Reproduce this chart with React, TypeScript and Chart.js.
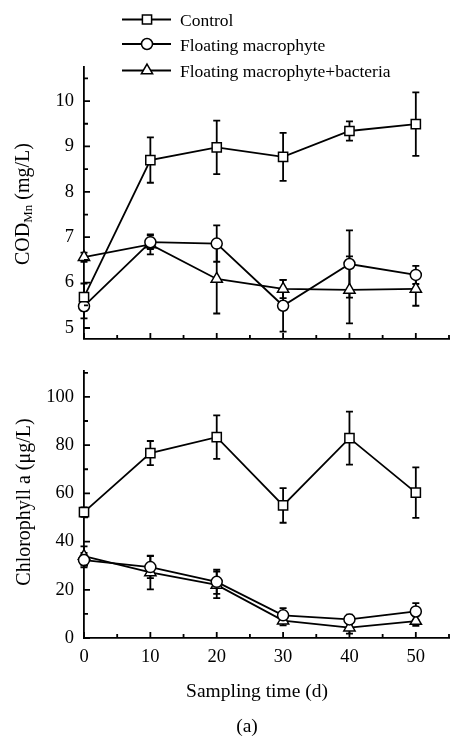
import React, { useEffect, useRef } from "react";
import { Chart, registerables } from "chart.js";
Chart.register(...registerables);

const FONT = "'Liberation Serif', 'Times New Roman', serif";

const DAYS = [0, 10, 20, 30, 40, 50];
const SERIES_NAMES = ["Control", "Floating macrophyte", "Floating macrophyte+bacteria"];
const SERIES_STYLES = ["rect", "circle", "triangle"];

const COD_CONTROL = [5.68, 8.7, 8.98, 8.77, 9.34, 9.49];
const COD_CONTROL_ERR = [0.3, 0.5, 0.59, 0.53, 0.21, 0.7];
const COD_FM = [5.48, 6.89, 6.86, 5.49, 6.41, 6.17];
const COD_FM_ERR = [0.27, 0.15, 0.4, 0.57, 0.74, 0.2];
const COD_FMB = [6.56, 6.84, 6.08, 5.86, 5.84, 5.86];
const COD_FMB_ERR = [0.1, 0.22, 0.76, 0.2, 0.74, 0.37];

const CHL_CONTROL = [52.2, 76.7, 83.3, 55.0, 82.9, 60.3];
const CHL_CONTROL_ERR = [2, 5, 9, 7.2, 11, 10.5];
const CHL_FM = [32.3, 29.4, 23.3, 9.4, 7.7, 11.0];
const CHL_FM_ERR = [3, 4.6, 5, 3, 2, 3.5];
const CHL_FMB = [34.0, 27.2, 22.0, 7.2, 4.3, 7.0];
const CHL_FMB_ERR = [4, 7, 5.5, 2, 2.5, 2];

const X_MAJOR = [0, 10, 20, 30, 40, 50];
const X_MINOR = [5, 15, 25, 35, 45, 55];
const COD_MAJOR = [5, 6, 7, 8, 9, 10];
const COD_MINOR = [5.5, 6.5, 7.5, 8.5, 9.5, 10.5];
const CHL_MAJOR = [0, 20, 40, 60, 80, 100];
const CHL_MINOR = [10, 30, 50, 70, 90, 110];

const X_TITLE = "Sampling time (d)";
const PANEL_LABEL = "(a)";
const COD_TITLE = ["COD", "Mn", " (mg/L)"];
const CHL_TITLE = "Chlorophyll a (\u03bcg/L)";

const LW = 1.8;

function drawMarker(ctx: CanvasRenderingContext2D, style: string, x: number, y: number) {
  ctx.save();
  ctx.beginPath();
  if (style === "rect") {
    const s = 4.6;
    ctx.rect(x - s, y - s, 2 * s, 2 * s);
  } else if (style === "circle") {
    ctx.arc(x, y, 5.5, 0, Math.PI * 2);
  } else {
    const r = 6.5;
    let a = 0;
    ctx.moveTo(x + Math.sin(a) * r, y - Math.cos(a) * r);
    a += (2 * Math.PI) / 3;
    ctx.lineTo(x + Math.sin(a) * r, y - Math.cos(a) * r);
    a += (2 * Math.PI) / 3;
    ctx.lineTo(x + Math.sin(a) * r, y - Math.cos(a) * r);
    ctx.closePath();
  }
  ctx.fillStyle = "#fff";
  ctx.fill();
  ctx.strokeStyle = "#000";
  ctx.lineWidth = 1.5;
  ctx.stroke();
  ctx.restore();
}

function makeDataset(i: number, values: number[], errors: number[]) {
  const style = SERIES_STYLES[i];
  return {
    label: SERIES_NAMES[i],
    data: DAYS.map((d, j) => ({ x: d, y: values[j] })),
    errors,
    borderColor: "#000",
    borderWidth: LW,
    pointStyle: style,
    pointRadius: style === "rect" ? 6.5 : style === "circle" ? 5.5 : 6.5,
    pointBorderWidth: 1.5,
    pointBackgroundColor: "#fff",
    pointBorderColor: "#000",
    fill: false,
    tension: 0,
    clip: false,
  };
}

function makeConfig(o: {
  datasets: any[];
  yMin: number;
  yMax: number;
  yMajor: number[];
  yMinor: number[];
  showXLabels: boolean;
  padTop: number;
  xHeight: number;
  drawText: (ctx: CanvasRenderingContext2D, chart: any) => void;
}) {
  const decor = {
    id: "decor",
    beforeDatasetsDraw(chart: any) {
      const ctx = chart.ctx as CanvasRenderingContext2D;
      const ys = chart.scales.y;
      ctx.save();
      ctx.strokeStyle = "#000";
      ctx.lineWidth = LW;
      chart.data.datasets.forEach((ds: any, i: number) => {
        const meta = chart.getDatasetMeta(i);
        meta.data.forEach((pt: any, j: number) => {
          const v = ds.data[j].y;
          const e = ds.errors[j];
          const yt = ys.getPixelForValue(v + e);
          const yb = ys.getPixelForValue(v - e);
          const x = pt.x;
          ctx.beginPath();
          ctx.moveTo(x, yt);
          ctx.lineTo(x, yb);
          ctx.moveTo(x - 3.5, yt);
          ctx.lineTo(x + 3.5, yt);
          ctx.moveTo(x - 3.5, yb);
          ctx.lineTo(x + 3.5, yb);
          ctx.stroke();
        });
      });
      ctx.restore();
    },
    afterDraw(chart: any) {
      const ctx = chart.ctx as CanvasRenderingContext2D;
      const xs = chart.scales.x;
      const ys = chart.scales.y;
      const area = chart.chartArea;
      ctx.save();
      ctx.strokeStyle = "#000";
      ctx.lineWidth = LW;
      ctx.beginPath();
      o.yMajor.forEach((v) => {
        const p = ys.getPixelForValue(v);
        ctx.moveTo(area.left, p);
        ctx.lineTo(area.left + 6, p);
      });
      o.yMinor.forEach((v) => {
        const p = ys.getPixelForValue(v);
        ctx.moveTo(area.left, p);
        ctx.lineTo(area.left + 4, p);
      });
      X_MAJOR.forEach((v) => {
        const p = xs.getPixelForValue(v);
        ctx.moveTo(p, area.bottom);
        ctx.lineTo(p, area.bottom - 6);
      });
      X_MINOR.forEach((v) => {
        const p = xs.getPixelForValue(v);
        ctx.moveTo(p, area.bottom);
        ctx.lineTo(p, area.bottom - 4);
      });
      ctx.stroke();
      ctx.restore();
      ctx.save();
      o.drawText(ctx, chart);
      ctx.restore();
    },
  };

  return {
    type: "line" as const,
    data: { datasets: o.datasets },
    plugins: [decor],
    options: {
      responsive: false,
      maintainAspectRatio: false,
      devicePixelRatio: 1,
      animation: false as const,
      events: [],
      layout: { padding: { top: o.padTop, right: 17, left: 0, bottom: 0 } },
      plugins: { legend: { display: false }, tooltip: { enabled: false }, title: { display: false } },
      scales: {
        x: {
          type: "linear" as const,
          min: 0,
          max: 55,
          afterBuildTicks: (s: any) => {
            s.ticks = X_MAJOR.map((v) => ({ value: v }));
          },
          afterFit: (s: any) => {
            s.height = o.xHeight;
          },
          grid: { display: false, drawTicks: false },
          border: { display: true, color: "#000", width: LW },
          ticks: {
            display: o.showXLabels,
            color: "#000",
            font: { family: FONT, size: 18.5 },
            padding: 8,
            maxRotation: 0,
            autoSkip: false,
            callback: (v: any) => String(v),
          },
        },
        y: {
          type: "linear" as const,
          min: o.yMin,
          max: o.yMax,
          afterBuildTicks: (s: any) => {
            s.ticks = o.yMajor.map((v) => ({ value: v }));
          },
          afterFit: (s: any) => {
            s.width = 84;
          },
          grid: { display: false, drawTicks: false },
          border: { display: true, color: "#000", width: LW },
          ticks: {
            color: "#000",
            font: { family: FONT, size: 18.5 },
            padding: 10,
            autoSkip: false,
            callback: (v: any) => String(v),
          },
        },
      },
    },
  };
}

function drawTopText(ctx: CanvasRenderingContext2D) {
  // legend
  const rows = [
    { y: 19.5, base: 26 },
    { y: 44, base: 50.5 },
    { y: 70.5, base: 77 },
  ];
  ctx.strokeStyle = "#000";
  ctx.fillStyle = "#000";
  rows.forEach((r, i) => {
    ctx.lineWidth = LW;
    ctx.beginPath();
    ctx.moveTo(122, r.y);
    ctx.lineTo(171, r.y);
    ctx.stroke();
    drawMarker(ctx, SERIES_STYLES[i], 147, r.y);
    ctx.fillStyle = "#000";
    ctx.font = `17.5px ${FONT}`;
    ctx.textAlign = "left";
    ctx.textBaseline = "alphabetic";
    ctx.fillText(SERIES_NAMES[i], 180, r.base);
  });
  // y title with subscript
  ctx.save();
  ctx.translate(29, 204);
  ctx.rotate(-Math.PI / 2);
  ctx.textBaseline = "alphabetic";
  ctx.textAlign = "left";
  ctx.font = `20px ${FONT}`;
  const w1 = ctx.measureText(COD_TITLE[0]).width;
  const w3 = ctx.measureText(COD_TITLE[2]).width;
  ctx.font = `13px ${FONT}`;
  const w2 = ctx.measureText(COD_TITLE[1]).width;
  let x = -(w1 + w2 + w3) / 2;
  ctx.font = `20px ${FONT}`;
  ctx.fillText(COD_TITLE[0], x, 0);
  x += w1;
  ctx.font = `13px ${FONT}`;
  ctx.fillText(COD_TITLE[1], x, 3);
  x += w2;
  ctx.font = `20px ${FONT}`;
  ctx.fillText(COD_TITLE[2], x, 0);
  ctx.restore();
}

const BOT_TOP = 350;

function drawBottomText(ctx: CanvasRenderingContext2D) {
  ctx.fillStyle = "#000";
  ctx.save();
  ctx.translate(30, 502 - BOT_TOP);
  ctx.rotate(-Math.PI / 2);
  ctx.textAlign = "center";
  ctx.textBaseline = "alphabetic";
  ctx.font = `20px ${FONT}`;
  ctx.fillText(CHL_TITLE, 0, 0);
  ctx.restore();
  ctx.textAlign = "center";
  ctx.textBaseline = "alphabetic";
  ctx.font = `19.5px ${FONT}`;
  ctx.fillText(X_TITLE, 257, 697 - BOT_TOP);
  ctx.fillText(PANEL_LABEL, 247, 732 - BOT_TOP);
}

export default function App() {
  const topRef = useRef<HTMLCanvasElement>(null);
  const botRef = useRef<HTMLCanvasElement>(null);

  useEffect(() => {
    const topChart = new Chart(
      topRef.current as HTMLCanvasElement,
      makeConfig({
        datasets: [
          makeDataset(0, COD_CONTROL, COD_CONTROL_ERR),
          makeDataset(1, COD_FM, COD_FM_ERR),
          makeDataset(2, COD_FMB, COD_FMB_ERR),
        ],
        yMin: 4.76,
        yMax: 10.75,
        yMajor: COD_MAJOR,
        yMinor: COD_MINOR,
        showXLabels: false,
        padTop: 67,
        xHeight: 14,
        drawText: (ctx) => drawTopText(ctx),
      }) as any
    );
    const botChart = new Chart(
      botRef.current as HTMLCanvasElement,
      makeConfig({
        datasets: [
          makeDataset(0, CHL_CONTROL, CHL_CONTROL_ERR),
          makeDataset(1, CHL_FM, CHL_FM_ERR),
          makeDataset(2, CHL_FMB, CHL_FMB_ERR),
        ],
        yMin: 0,
        yMax: 110.7,
        yMajor: CHL_MAJOR,
        yMinor: CHL_MINOR,
        showXLabels: true,
        padTop: 358 - BOT_TOP,
        xHeight: 391 - (638 - BOT_TOP),
        drawText: (ctx) => drawBottomText(ctx),
      }) as any
    );
    return () => {
      topChart.destroy();
      botChart.destroy();
    };
  }, []);

  return (
    <div style={{ position: "absolute", left: 0, top: 0, width: 466, height: 741, background: "#fff" }}>
      <canvas
        ref={topRef}
        width={466}
        height={360}
        style={{ position: "absolute", left: 0, top: 0, width: 466, height: 360 }}
      />
      <canvas
        ref={botRef}
        width={466}
        height={391}
        style={{ position: "absolute", left: 0, top: BOT_TOP, width: 466, height: 391 }}
      />
    </div>
  );
}
